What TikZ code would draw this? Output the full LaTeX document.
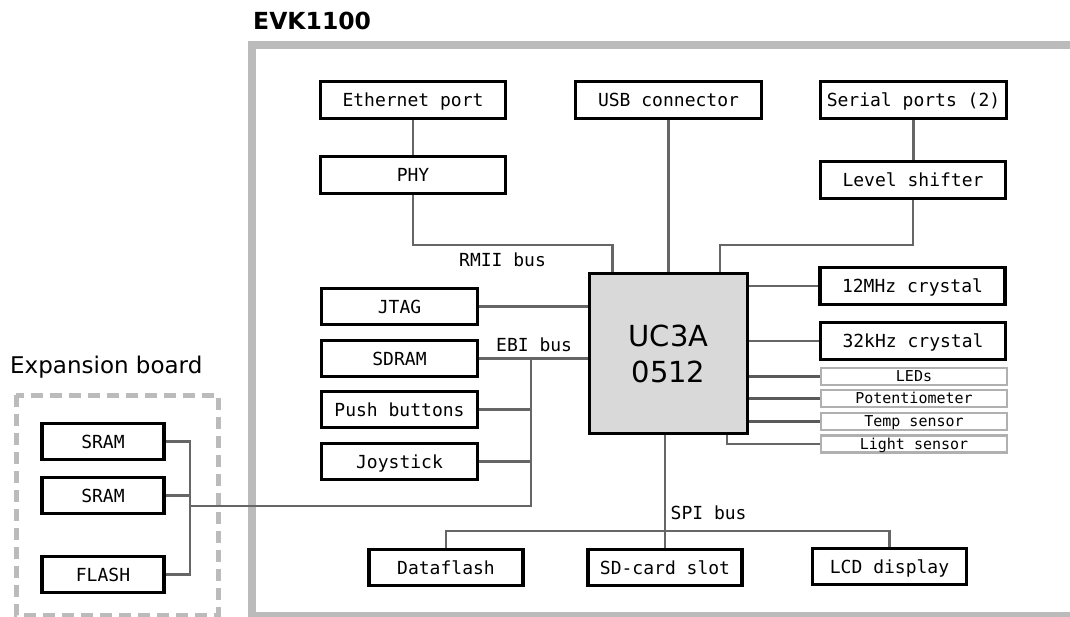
\documentclass[tikz,border=0pt]{standalone}
\usepackage{fontspec}
\setmainfont{DejaVu Sans}
\setmonofont{DejaVu Sans Mono}
\usetikzlibrary{calc}
\definecolor{framegray}{HTML}{BBBBBB}
\definecolor{wiregray}{HTML}{666666}
\definecolor{darkwire}{HTML}{5A5A5A}
\definecolor{chipgray}{HTML}{D9D9D9}
\definecolor{sensgray}{HTML}{B0B0B0}
\tikzset{
  blk/.style={draw=black, line width=3.2pt, minimum height=36.5pt, inner sep=0pt,
    text height=13.1pt, text depth=0pt, font=\fontsize{18}{22}\selectfont\ttfamily},
  sensbox/.style={draw=sensgray, line width=2.5pt, minimum width=186pt, minimum height=17pt,
    inner sep=0pt, text height=10.9pt, text depth=0pt, font=\fontsize{15}{18}\selectfont\ttfamily},
  wire/.style={draw=wiregray, line width=2.2pt},
  sigwire/.style={draw=darkwire, line width=3.2pt},
  buslbl/.style={anchor=base west, inner sep=0pt, font=\fontsize{18}{22}\selectfont\ttfamily}
}
\begin{document}
\begin{tikzpicture}[x=1pt, y=-1pt]
\useasboundingbox (0,0) rectangle (1070,617);

% Board outlines
\draw[framegray, line width=8pt] (252,45) rectangle (1100,616);
\draw[framegray, line width=5pt, dash pattern=on 12pt off 7pt] (16,395) rectangle (218,615);
\node[anchor=base west, inner sep=0pt, font=\fontsize{23.5}{28}\selectfont\bfseries] (evk) at (253,30) {EVK1100};
\node[anchor=base west, inner sep=0pt, font=\fontsize{23}{28}\selectfont] (expb) at (10,373) {Expansion board};

% Microcontroller
\node[blk, fill=chipgray, minimum width=158pt, minimum height=160pt, text height=, text depth=,
  align=center, font=\fontsize{29}{36}\selectfont] (chip) at (668.5,353.5) {UC3A\\0512};

% Top row
\node[blk, minimum width=185pt] (eth) at (413,100) {Ethernet port};
\node[blk, minimum width=185pt] (phy) at (413,175) {PHY};
\node[blk, minimum width=186pt] (usb) at (668.5,100) {USB connector};
\node[blk, minimum width=186pt] (serial) at (913.5,100) {Serial ports (2)};
\node[blk, minimum width=185pt] (level) at (913,180) {Level shifter};

% Right side
\node[blk, minimum width=185pt] (mhz) at (912.5,286) {12MHz crystal};
\node[blk, minimum width=185pt] (khz) at (913,341) {32kHz crystal};
\node[sensbox] (leds) at (914,376.5) {LEDs};
\node[sensbox] (pot) at (914,398.5) {Potentiometer};
\node[sensbox] (temp) at (914,421.5) {Temp sensor};
\node[sensbox] (light) at (914,444) {Light sensor};

% Left side
\node[blk, minimum width=156pt] (jtag) at (399.5,306.5) {JTAG};
\node[blk, minimum width=156pt] (sdram) at (399.5,358.5) {SDRAM};
\node[blk, minimum width=156pt] (push) at (399.5,409.5) {Push buttons};
\node[blk, minimum width=156pt] (joy) at (399.5,461.5) {Joystick};

% Expansion board parts
\node[blk, minimum width=122pt] (sram1) at (103,441.5) {SRAM};
\node[blk, minimum width=122pt] (sram2) at (103,495.5) {SRAM};
\node[blk, minimum width=122pt] (flash) at (103,574.5) {FLASH};

% Bottom row
\node[blk, minimum width=154pt] (dflash) at (446,567.5) {Dataflash};
\node[blk, minimum width=154pt] (sd) at (665,567.5) {SD-card slot};
\node[blk, minimum width=154pt] (lcd) at (889.5,566.5) {LCD display};

% Bus labels
\node[buslbl] (rmii) at (459,266.7) {RMII bus};
\node[buslbl] (ebi) at (496,351.7) {EBI bus};
\node[buslbl] (spi) at (670.5,519) {SPI bus};

\coordinate (ebitop) at (531,358.5);
\coordinate (ebibot) at (531,505.7);
\coordinate (xbus) at (190,505.7);
\coordinate (spibus) at (665,530.7);

% Connections
\draw[wire] (eth.south) -- (phy.north);
\draw[wire] (phy.south) -- ++(0,50) -| ([xshift=-56pt]chip.north);
\draw[wire] (usb.south) -- (chip.north);
\draw[wire] (serial.south) -- (serial.south |- level.north);
\draw[wire] (level.south) -- ++(0,45) -| ([xshift=51.5pt]chip.north);
\draw[wire] (chip.east |- mhz.west) -- (mhz.west);
\draw[wire] (chip.east |- khz.west) -- (khz.west);
\draw[sigwire] (chip.east |- leds.west) -- (leds.west);
\draw[sigwire] (chip.east |- pot.west) -- (pot.west);
\draw[sigwire] (chip.east |- temp.west) -- (temp.west);
\draw[wire] ([xshift=58.5pt]chip.south) |- (light.west);
\draw[wire] (jtag.east) -- (jtag.east -| chip.west);
\draw[wire] (sdram.east) -- (sdram.east -| chip.west);
\draw[wire] (ebitop) -- (ebibot) -- (xbus);
\draw[wire] (push.east) -- (push.east -| ebitop);
\draw[wire] (joy.east) -- (joy.east -| ebitop);
\draw[wire] (sram1.east) -- (sram1.east -| xbus) -- (flash.east -| xbus) -- (flash.east);
\draw[wire] (sram2.east) -- (sram2.east -| xbus);
\draw[wire] (sd.north |- chip.south) -- (sd.north);
\draw[wire] (dflash.north) |- (spibus) -| (lcd.north);
\end{tikzpicture}
\end{document}
